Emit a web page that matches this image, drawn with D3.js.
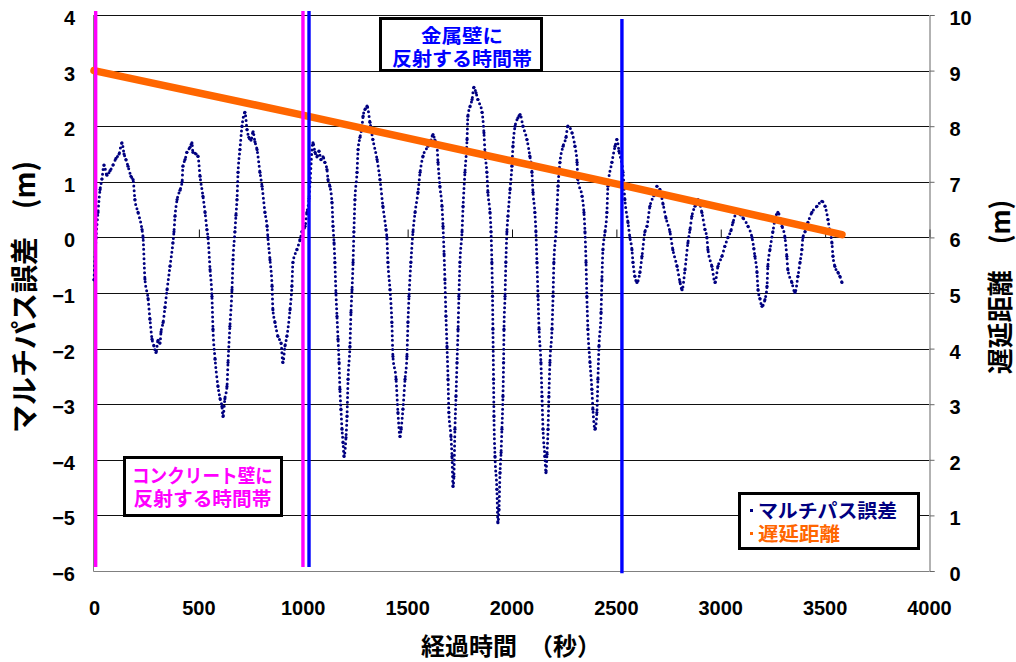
<!DOCTYPE html>
<html>
<head>
<meta charset="utf-8">
<script src="https://cdn.jsdelivr.net/npm/d3@7"></script>
<style>
  html, body { margin: 0; padding: 0; background: #fff; }
  svg { display: block; }
  .jp { font-family: "Noto Sans CJK JP", "Noto Sans CJK SC", sans-serif; font-weight: 700; }
  .num { font-family: "Liberation Sans", Arial, sans-serif; font-weight: 700; }
</style>
</head>
<body>
<svg id="chart" width="1016" height="662"></svg>
<script>
// ---- axis ticks ----
const xTicks = [0, 500, 1000, 1500, 2000, 2500, 3000, 3500, 4000];
const leftTicks = [4, 3, 2, 1, 0, -1, -2, -3, -4, -5, -6];
const rightTicks = [0, 1, 2, 3, 4, 5, 6, 7, 8, 9, 10];

// ---- multipath error (m) vs elapsed time (s) ----
const errTime = [
  0, 10, 19, 29, 38, 48, 62, 77, 91, 105, 120, 134, 144, 153, 163, 177, 187, 196, 211, 230, 235,
  244, 259, 268, 278, 287, 297, 307, 316, 321, 331, 340, 350, 364, 378,
  383, 388, 398, 412, 422, 426, 436, 445, 460, 469, 474, 489, 498, 508, 522, 532, 541, 546,
  556, 565, 570, 580, 594, 604, 613, 618, 627, 637, 642, 651, 661, 666,
  675, 680, 685, 690, 699, 709, 723, 733, 742, 752, 762, 771, 781, 795, 805, 819, 829, 833,
  843, 853, 857, 867, 881, 896, 905, 915, 924, 939, 948, 953, 972, 987,
  996, 1011, 1020, 1030, 1035, 1049, 1059, 1068, 1078, 1087, 1097, 1106, 1116, 1121, 1130, 1140, 1145,
  1150, 1154, 1159, 1164, 1169, 1174, 1178, 1183, 1188, 1193, 1198, 1207, 1212, 1217, 1226, 1231, 1236, 1241,
  1245, 1250, 1260, 1265, 1274, 1284, 1289, 1298, 1308, 1322, 1336, 1356, 1370, 1384, 1399,
  1403, 1408, 1418, 1427, 1432, 1447, 1456, 1466, 1471, 1480, 1490, 1499, 1504, 1509, 1518,
  1528, 1538, 1552, 1562, 1576, 1600, 1614, 1624, 1633, 1643, 1648, 1657, 1667, 1672,
  1677, 1681, 1686, 1691, 1696, 1700, 1710, 1715, 1720, 1724, 1729, 1734, 1739, 1744, 1748, 1753,
  1763, 1768, 1777, 1787, 1791, 1801, 1811, 1820, 1830, 1839, 1859, 1868, 1873, 1882, 1887, 1897, 1902,
  1906, 1909, 1911, 1914, 1916, 1921, 1930, 1935, 1940, 1945, 1950, 1954, 1959, 1962, 1964, 1969, 1973,
  1978, 1983, 1993, 2002, 2007, 2017, 2031, 2041, 2055, 2074, 2088, 2098, 2103, 2112, 2117,
  2122, 2127, 2132, 2141, 2146, 2151, 2160, 2165, 2170, 2175, 2179, 2184, 2194, 2199, 2203,
  2213, 2218, 2223, 2232, 2247, 2261, 2270, 2290, 2304, 2314, 2318, 2338, 2347, 2352,
  2357, 2361, 2366, 2376, 2385, 2390, 2400, 2409, 2414, 2419, 2429, 2433, 2438,
  2448, 2457, 2462, 2481, 2496, 2505, 2515, 2534, 2543, 2558, 2567,
  2577, 2582, 2591, 2601, 2615, 2625, 2639,
  2649, 2663, 2682, 2697, 2711, 2726, 2740, 2759,
  2773, 2793, 2807, 2817, 2831, 2845, 2855,
  2864, 2879, 2893, 2912, 2927,
  2936, 2941, 2960, 2975, 2989, 3008, 3022, 3037,
  3051, 3061, 3080, 3094, 3109, 3133, 3152,
  3161, 3166, 3176, 3181, 3190, 3200, 3214, 3224, 3228, 3238,
  3252, 3262, 3276, 3296, 3310,
  3319, 3324, 3343, 3358, 3372, 3382, 3391, 3396,
  3406, 3420, 3439, 3463, 3487, 3502, 3516, 3525,
  3535, 3540, 3549, 3564, 3573, 3583
];
const errValue = [
  -0.76, 0.0, 0.45, 0.86, 1.05, 1.3, 1.12, 1.2, 1.3, 1.42, 1.5, 1.7, 1.5, 1.4, 1.28, 1.1, 1.04, 0.68, 0.45, 0.14, 0.0,
  -0.75, -1.1, -1.47, -1.83, -1.95, -2.07, -1.85, -1.9, -1.7, -1.53, -1.26, -0.94, -0.52, -0.1,
  0.1, 0.38, 0.68, 0.85, 1.0, 1.28, 1.4, 1.53, 1.62, 1.7, 1.53, 1.5, 1.46, 1.1, 0.74, 0.45, 0.14, 0.0,
  -0.58, -1.06, -1.65, -2.19, -2.68, -2.9, -3.04, -3.22, -2.9, -2.68, -2.25, -1.6, -0.94, -0.4,
  0.1, 0.4, 0.68, 1.17, 1.58, 2.0, 2.25, 1.94, 1.8, 1.75, 1.9, 1.72, 1.58, 1.17, 0.92, 0.45, 0.2, 0.0,
  -0.4, -0.88, -1.3, -1.53, -1.78, -1.9, -2.25, -1.95, -1.78, -1.3, -0.88, -0.45, -0.22, -0.04,
  0.1, 0.2, 0.45, 0.7, 1.0, 1.7, 1.53, 1.45, 1.55, 1.4, 1.45, 1.35, 1.22, 1.04, 0.92, 0.63, 0.2,
  -0.1, -0.45, -1.0, -1.42, -1.83, -2.25, -2.73, -3.09, -3.45, -3.69, -3.94, -3.6, -3.22, -2.55, -1.96, -1.35, -0.94, -0.45,
  0.1, 0.68, 1.17, 1.58, 1.8, 2.0, 2.18, 2.3, 2.36, 2.07, 1.76, 1.4, 1.04, 0.56, 0.14,
  0.0, -0.45, -0.94, -1.53, -2.14, -2.55, -3.15, -3.58, -3.45, -3.09, -2.55, -2.14, -1.53, -1.06, -0.45,
  0.1, 0.45, 0.81, 1.17, 1.46, 1.64, 1.75, 1.85, 1.75, 1.64, 1.35, 0.92, 0.56, 0.2,
  -0.3, -0.76, -1.42, -1.96, -2.55, -3.15, -3.58, -3.94, -4.48, -4.3, -3.45, -2.86, -2.25, -1.65, -1.06, -0.45,
  0.1, 0.56, 1.17, 1.76, 2.18, 2.35, 2.48, 2.7, 2.6, 2.48, 2.25, 1.88, 1.53, 1.17, 0.81, 0.45, 0.1,
  -0.45, -1.06, -1.65, -2.55, -3.22, -3.94, -4.53, -5.13, -4.89, -4.23, -3.87, -3.45, -2.86, -2.25, -1.65, -1.06, -0.45,
  0.1, 0.38, 0.86, 1.28, 1.64, 2.0, 2.15, 2.21, 2.0, 1.76, 1.46, 1.17, 0.81, 0.45, 0.1,
  -0.45, -1.06, -1.65, -2.25, -2.86, -3.45, -3.94, -4.23, -3.9, -3.45, -2.86, -2.25, -1.65, -1.06, -0.45,
  0.1, 0.5, 0.92, 1.35, 1.64, 1.8, 2.0, 1.88, 1.64, 1.35, 1.04, 0.74, 0.45, 0.1,
  -0.45, -1.06, -1.65, -2.25, -2.73, -3.09, -3.45, -3.15, -2.55, -1.96, -1.35, -0.76, -0.22,
  0.1, 0.45, 0.92, 1.35, 1.64, 1.76, 1.55, 1.17, 0.68, 0.27, 0.0,
  -0.22, -0.45, -0.7, -0.81, -0.63, -0.34, 0.1,
  0.2, 0.56, 0.75, 0.92, 0.86, 0.6, 0.35, 0.1,
  -0.22, -0.52, -0.8, -0.94, -0.58, -0.1, 0.14,
  0.38, 0.56, 0.68, 0.45, 0.14,
  0.0, -0.22, -0.52, -0.81, -0.52, -0.34, -0.16, 0.0,
  0.12, 0.27, 0.45, 0.42, 0.35, 0.2, 0.0,
  -0.2, -0.34, -0.63, -0.94, -1.1, -1.24, -1.12, -0.88, -0.52, -0.22,
  0.1, 0.32, 0.45, 0.2, 0.0,
  -0.34, -0.58, -0.81, -0.99, -0.7, -0.45, -0.22, 0.0,
  0.1, 0.27, 0.45, 0.56, 0.65, 0.56, 0.32, 0.1,
  -0.1, -0.34, -0.52, -0.63, -0.7, -0.81
];

// ---- delay distance (m), right axis ----
const delayTime = [0, 1000, 2529, 3583];
const delayValue = [9.0, 8.2, 6.94, 6.05];

// ---- reflection period boundaries (s) ----
const concreteBounds = [8, 1001];
const metalBounds = [1030, 2529];

// ---- labels ----
const leftTitle = "マルチパス誤差　(m)";
const rightTitle = "遅延距離　(m)";
const xTitle = "経過時間　（秒）";
const metalLabel = ["金属壁に", "反射する時間帯"];
const concreteLabel = ["コンクリート壁に", "反射する時間帯"];
const legendLabels = ["マルチパス誤差", "遅延距離"];

// ---- drawing ----
const NAVY = "#000080", ORANGE = "#FF6600", MAGENTA = "#FF00FF", BLUE = "#0000FF";
const svg = d3.select("#chart");
svg.append("rect").attr("width", 1016).attr("height", 662).attr("fill", "#fff");

const x = d3.scaleLinear().domain([0, 4000]).range([94, 929]);
const yL = d3.scaleLinear().domain([-6, 4]).range([571, 15]);
const yR = d3.scaleLinear().domain([0, 10]).range([571, 15]);
const crisp = v => Math.round(v) + 0.5;

// horizontal gridlines
svg.append("g").selectAll("line").data(leftTicks.filter(d => d !== -6)).join("line")
  .attr("x1", 94).attr("x2", 929)
  .attr("y1", d => crisp(yL(d))).attr("y2", d => crisp(yL(d)))
  .attr("stroke", "#111").attr("stroke-width", 1);

// plot frame (left and bottom lines)
svg.append("line").attr("x1", 93.5).attr("x2", 93.5).attr("y1", 15).attr("y2", 571.5)
  .attr("stroke", "#808080");
svg.append("line").attr("x1", 93.5).attr("x2", 929).attr("y1", 571.5).attr("y2", 571.5)
  .attr("stroke", "#808080");

// x tick marks sitting on the zero line
const xTickAxis = svg.append("g").attr("transform", `translate(0.5,${crisp(yL(0))})`)
  .call(d3.axisTop(x).tickValues(xTicks).tickSize(8).tickFormat(""));
xTickAxis.select(".domain").remove();
xTickAxis.selectAll(".tick line").attr("stroke", "#111");

// x tick labels
const xAxis = svg.append("g").attr("transform", "translate(0,571)")
  .call(d3.axisBottom(x).tickValues(xTicks).tickSize(0).tickPadding(30).tickFormat(d3.format("d")));
xAxis.select(".domain").remove();
xAxis.selectAll("text").attr("class", "num").attr("font-size", 20).attr("fill", "#000");

// left tick labels
const lAxis = svg.append("g").attr("transform", "translate(94,0)")
  .call(d3.axisLeft(yL).tickValues(leftTicks).tickSize(0).tickPadding(19)
    .tickFormat(d => d < 0 ? "\u2212" + Math.abs(d) : String(d)));
lAxis.select(".domain").remove();
lAxis.selectAll("text").attr("class", "num").attr("font-size", 20).attr("fill", "#000").attr("y", 3);

// right axis
const rAxis = svg.append("g").attr("transform", "translate(929.5,0)")
  .call(d3.axisRight(yR).tickValues(rightTicks).tickSize(5).tickPadding(15));
rAxis.select(".domain").attr("stroke", "#666");
rAxis.selectAll(".tick line").attr("stroke", "#666");
rAxis.selectAll("text").attr("class", "num").attr("font-size", 20).attr("fill", "#000").attr("y", 3);

// multipath error samples
const errData = errTime.map((t, i) => ({ t, v: errValue[i] }));
const errLine = d3.line().x(d => x(d.t)).y(d => yL(d.v)).curve(d3.curveMonotoneX);
svg.append("path").datum(errData).attr("d", errLine)
  .attr("fill", "none").attr("stroke", NAVY).attr("stroke-width", 3)
  .attr("stroke-linecap", "round").attr("stroke-dasharray", "0 4.6");
svg.append("g").selectAll("circle").data(errData).join("circle")
  .attr("cx", d => x(d.t)).attr("cy", d => yL(d.v)).attr("r", 1.6).attr("fill", NAVY);

// delay distance
const delayData = delayTime.map((t, i) => ({ t, v: delayValue[i] }));
svg.append("path").datum(delayData)
  .attr("d", d3.line().x(d => x(d.t)).y(d => yR(d.v)))
  .attr("fill", "none").attr("stroke", ORANGE).attr("stroke-width", 7.5)
  .attr("stroke-linecap", "round");

// reflection period boundaries
const bounds = [
  { t: concreteBounds[0], c: MAGENTA, top: 4.07, bot: -5.93 },
  { t: concreteBounds[1], c: MAGENTA, top: 4.07, bot: -5.93 },
  { t: metalBounds[0], c: BLUE, top: 4.07, bot: -5.93 },
  { t: metalBounds[1], c: BLUE, top: 3.93, bot: -6.04 }
];
svg.append("g").selectAll("line").data(bounds).join("line")
  .attr("x1", d => x(d.t)).attr("x2", d => x(d.t))
  .attr("y1", d => yL(d.top)).attr("y2", d => yL(d.bot))
  .attr("stroke", d => d.c).attr("stroke-width", 3.4);

// annotation boxes (two lines inside one text element)
function labelBox(x0, y0, w, h, lines, color, cx, baselines, widths) {
  svg.append("rect").attr("x", x0).attr("y", y0).attr("width", w).attr("height", h)
    .attr("fill", "#fff").attr("stroke", "#000").attr("stroke-width", 3);
  const t = svg.append("text").attr("class", "jp").attr("font-size", 19)
    .attr("text-anchor", "middle").attr("fill", color);
  lines.forEach((s, i) => {
    t.append("tspan").attr("x", cx).attr("y", baselines[i])
      .attr("textLength", widths[i]).attr("lengthAdjust", "spacingAndGlyphs").text(s);
  });
}
labelBox(380.5, 18.5, 161, 52, metalLabel, BLUE, 462, [43, 66], [82, 140]);
labelBox(124.5, 457.5, 157, 58, concreteLabel, MAGENTA, 202.5, [483, 506], [141, 138]);

// legend
svg.append("rect").attr("x", 739.5).attr("y", 493.5).attr("width", 179).attr("height", 55)
  .attr("fill", "#fff").attr("stroke", "#000").attr("stroke-width", 3);
const legendColors = [NAVY, ORANGE];
const legendWidths = [139, 82];
const legendText = svg.append("text").attr("class", "jp").attr("font-size", 19);
legendLabels.forEach((s, i) => {
  const by = 518 + i * 23;
  svg.append("rect").attr("x", 750).attr("y", by - 9).attr("width", 3).attr("height", 3)
    .attr("fill", legendColors[i]);
  legendText.append("tspan").attr("x", 758).attr("y", by).attr("fill", legendColors[i])
    .attr("textLength", legendWidths[i]).attr("lengthAdjust", "spacingAndGlyphs").text(s);
});

// axis titles
svg.append("text").attr("class", "jp").attr("font-size", 28).attr("fill", "#000")
  .attr("text-anchor", "middle").attr("dominant-baseline", "central")
  .attr("transform", "translate(23,297) rotate(-90)").text(leftTitle);
svg.append("text").attr("class", "jp").attr("font-size", 26).attr("fill", "#000")
  .attr("text-anchor", "middle").attr("dominant-baseline", "central")
  .attr("transform", "translate(998,287) rotate(-90)").text(rightTitle);
svg.append("text").attr("class", "jp").attr("font-size", 24).attr("fill", "#000")
  .attr("text-anchor", "middle").attr("x", 511).attr("y", 655).text(xTitle);
</script>
</body>
</html>
